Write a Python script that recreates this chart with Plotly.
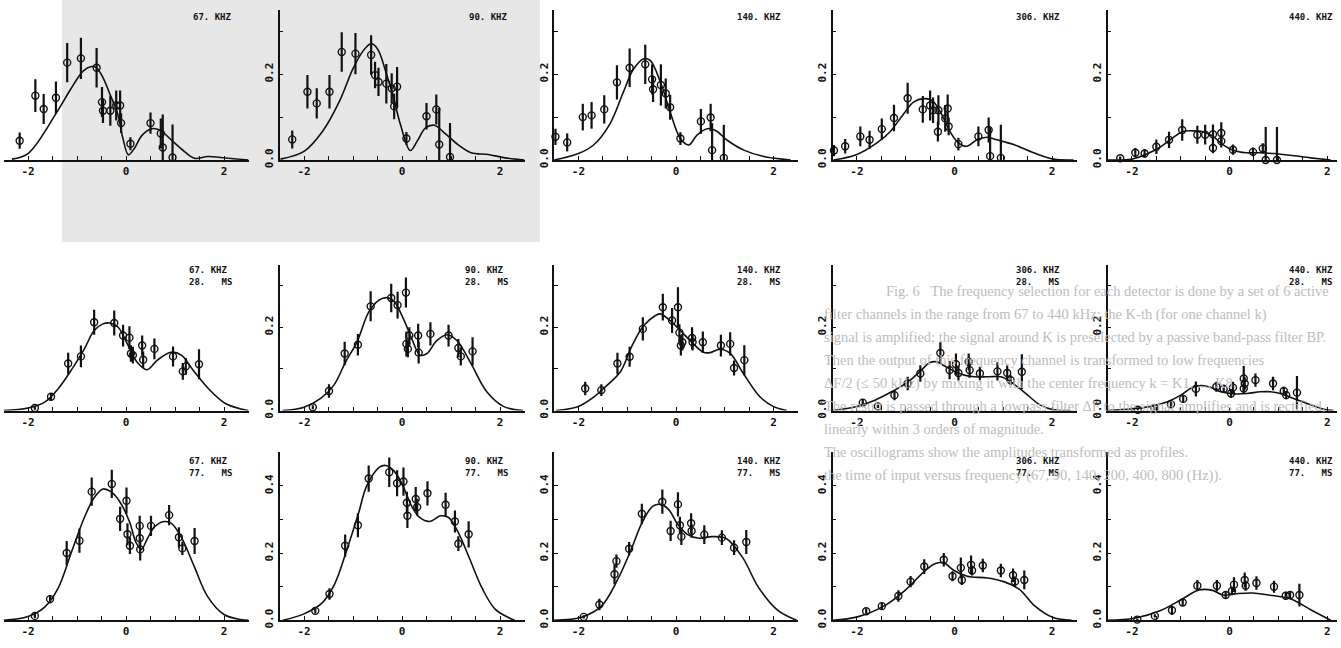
import plotly.graph_objects as go

# ---------------- data: points (x, y, error) and fitted curves ----------------
# Row 1 (frequency only)
r1c1_x = [-2.17, -1.85, -1.68, -1.43, -1.20, -0.92, -0.60, -0.49, -0.47, -0.32, -0.20, -0.12, -0.10, 0.09, 0.50, 0.71, 0.75, 0.95]
r1c1_y = [0.045, 0.150, 0.119, 0.145, 0.227, 0.237, 0.215, 0.135, 0.115, 0.115, 0.127, 0.127, 0.086, 0.038, 0.086, 0.062, 0.029, 0.006]
r1c1_e = [0.019, 0.038, 0.035, 0.038, 0.046, 0.048, 0.046, 0.035, 0.029, 0.035, 0.035, 0.035, 0.023, 0.015, 0.025, 0.035, 0.077, 0.077]
r1c1_cx = [-2.33, -2.0, -1.43, -1.13, -0.87, -0.70, -0.60, -0.47, -0.33, -0.17, -0.07, 0.05, 0.17, 0.33, 0.53, 0.70, 0.93, 1.20, 1.40, 1.67, 1.93, 2.5]
r1c1_cy = [0.002, 0.015, 0.108, 0.165, 0.208, 0.218, 0.215, 0.192, 0.154, 0.108, 0.054, 0.012, 0.027, 0.058, 0.073, 0.069, 0.046, 0.019, 0.004, 0.008, 0.006, 0.0]

r1c2_x = [-2.24, -1.93, -1.74, -1.48, -1.23, -0.95, -0.63, -0.55, -0.48, -0.32, -0.21, -0.16, -0.10, 0.09, 0.50, 0.70, 0.76, 0.98]
r1c2_y = [0.048, 0.159, 0.132, 0.159, 0.252, 0.248, 0.245, 0.198, 0.182, 0.178, 0.167, 0.125, 0.171, 0.050, 0.102, 0.118, 0.036, 0.007]
r1c2_e = [0.021, 0.039, 0.035, 0.039, 0.046, 0.048, 0.046, 0.031, 0.033, 0.046, 0.035, 0.030, 0.046, 0.015, 0.031, 0.035, 0.085, 0.079]
r1c2_cx = [-2.48, -2.0, -1.62, -1.28, -1.0, -0.79, -0.66, -0.59, -0.48, -0.31, -0.17, -0.03, 0.17, 0.31, 0.48, 0.66, 0.83, 1.14, 1.41, 1.76, 2.1, 2.5]
r1c2_cy = [0.002, 0.020, 0.067, 0.136, 0.213, 0.255, 0.270, 0.270, 0.255, 0.198, 0.144, 0.082, 0.022, 0.044, 0.075, 0.081, 0.067, 0.036, 0.017, 0.013, 0.005, 0.0]

r1c3_x = [-2.47, -2.23, -1.91, -1.73, -1.47, -1.21, -0.95, -0.63, -0.49, -0.47, -0.31, -0.21, -0.12, 0.09, 0.51, 0.71, 0.74, 0.98]
r1c3_y = [0.054, 0.041, 0.100, 0.104, 0.118, 0.181, 0.215, 0.223, 0.188, 0.165, 0.175, 0.155, 0.123, 0.050, 0.090, 0.099, 0.023, 0.005]
r1c3_e = [0.019, 0.021, 0.031, 0.031, 0.033, 0.040, 0.045, 0.046, 0.035, 0.030, 0.048, 0.035, 0.029, 0.015, 0.029, 0.032, 0.063, 0.077]
r1c3_cx = [-2.5, -2.0, -1.69, -1.35, -1.08, -0.87, -0.66, -0.53, -0.32, -0.12, 0.09, 0.26, 0.43, 0.64, 0.81, 1.05, 1.39, 1.80, 2.35]
r1c3_cy = [0.0, 0.015, 0.035, 0.085, 0.158, 0.212, 0.236, 0.232, 0.182, 0.112, 0.050, 0.035, 0.058, 0.073, 0.069, 0.046, 0.023, 0.008, 0.0]

r1c4_x = [-2.47, -2.24, -1.93, -1.74, -1.49, -1.24, -0.96, -0.65, -0.50, -0.44, -0.34, -0.33, -0.19, -0.14, -0.12, 0.08, 0.49, 0.70, 0.73, 0.95]
r1c4_y = [0.022, 0.032, 0.055, 0.047, 0.072, 0.098, 0.144, 0.118, 0.127, 0.116, 0.066, 0.116, 0.097, 0.120, 0.078, 0.037, 0.055, 0.070, 0.009, 0.005]
r1c4_e = [0.013, 0.017, 0.023, 0.021, 0.025, 0.031, 0.036, 0.031, 0.035, 0.030, 0.023, 0.035, 0.031, 0.033, 0.020, 0.015, 0.023, 0.029, 0.067, 0.077]
r1c4_cx = [-2.48, -2.0, -1.59, -1.32, -1.04, -0.84, -0.63, -0.46, -0.29, -0.09, 0.08, 0.25, 0.46, 0.66, 0.87, 1.21, 1.62, 2.03, 2.44]
r1c4_cy = [0.0, 0.013, 0.040, 0.066, 0.108, 0.135, 0.143, 0.139, 0.112, 0.066, 0.040, 0.032, 0.047, 0.053, 0.047, 0.036, 0.017, 0.002, 0.0]

r1c5_x = [-2.24, -1.93, -1.74, -1.50, -1.24, -0.97, -0.66, -0.50, -0.34, -0.34, -0.17, -0.17, 0.07, 0.48, 0.68, 0.74, 0.97]
r1c5_y = [0.004, 0.017, 0.015, 0.031, 0.047, 0.070, 0.059, 0.059, 0.060, 0.028, 0.063, 0.044, 0.024, 0.019, 0.027, 0.000, 0.000]
r1c5_e = [0.004, 0.011, 0.010, 0.017, 0.019, 0.025, 0.021, 0.023, 0.023, 0.012, 0.025, 0.015, 0.012, 0.010, 0.012, 0.077, 0.077]
r1c5_cx = [-2.5, -2.0, -1.72, -1.45, -1.17, -0.97, -0.76, -0.55, -0.34, -0.14, 0.07, 0.34, 0.62, 0.90, 1.24, 1.66, 2.07]
r1c5_cy = [0.0, 0.002, 0.013, 0.028, 0.051, 0.066, 0.068, 0.066, 0.055, 0.036, 0.023, 0.017, 0.017, 0.015, 0.011, 0.005, 0.0]

# Row 2 (28 ms)
r2c1_x = [-1.86, -1.53, -1.18, -0.92, -0.65, -0.24, -0.06, 0.07, 0.10, 0.14, 0.33, 0.35, 0.58, 0.96, 1.16, 1.22, 1.49]
r2c1_y = [0.006, 0.033, 0.113, 0.130, 0.212, 0.210, 0.180, 0.175, 0.137, 0.133, 0.156, 0.122, 0.148, 0.130, 0.094, 0.106, 0.111]
r2c1_e = [0.004, 0.008, 0.026, 0.026, 0.030, 0.030, 0.026, 0.027, 0.020, 0.020, 0.024, 0.020, 0.025, 0.024, 0.020, 0.020, 0.036]
r2c1_cx = [-2.5, -2.0, -1.65, -1.38, -1.10, -0.85, -0.65, -0.47, -0.33, -0.16, 0.01, 0.22, 0.43, 0.64, 0.92, 1.13, 1.37, 1.68, 2.03, 2.38, 2.5]
r2c1_cy = [0.0, 0.006, 0.021, 0.053, 0.100, 0.148, 0.192, 0.208, 0.210, 0.200, 0.164, 0.117, 0.098, 0.121, 0.140, 0.133, 0.097, 0.053, 0.017, 0.003, 0.0]

r2c2_x = [-1.82, -1.49, -1.17, -0.90, -0.64, -0.22, -0.09, 0.08, 0.09, 0.12, 0.15, 0.33, 0.34, 0.58, 0.95, 1.15, 1.20, 1.44]
r2c2_y = [0.008, 0.047, 0.137, 0.158, 0.250, 0.270, 0.253, 0.283, 0.160, 0.148, 0.180, 0.180, 0.139, 0.184, 0.180, 0.150, 0.130, 0.142]
r2c2_e = [0.005, 0.016, 0.028, 0.026, 0.036, 0.034, 0.032, 0.036, 0.030, 0.020, 0.020, 0.028, 0.026, 0.028, 0.026, 0.022, 0.022, 0.034]
r2c2_cx = [-2.44, -2.0, -1.66, -1.39, -1.15, -0.92, -0.68, -0.47, -0.31, -0.17, 0.03, 0.20, 0.37, 0.51, 0.71, 0.92, 1.12, 1.39, 1.73, 2.07, 2.47]
r2c2_cy = [0.0, 0.008, 0.029, 0.061, 0.117, 0.164, 0.236, 0.265, 0.271, 0.263, 0.220, 0.172, 0.133, 0.137, 0.168, 0.182, 0.168, 0.117, 0.045, 0.010, 0.0]

r2c3_x = [-1.86, -1.53, -1.20, -0.95, -0.68, -0.27, -0.08, 0.04, 0.07, 0.10, 0.13, 0.33, 0.34, 0.55, 0.92, 1.11, 1.19, 1.40]
r2c3_y = [0.053, 0.049, 0.113, 0.129, 0.196, 0.248, 0.216, 0.248, 0.187, 0.156, 0.164, 0.174, 0.164, 0.164, 0.156, 0.160, 0.102, 0.121]
r2c3_e = [0.016, 0.014, 0.026, 0.024, 0.028, 0.032, 0.030, 0.048, 0.020, 0.024, 0.020, 0.026, 0.020, 0.026, 0.026, 0.028, 0.018, 0.036]
r2c3_cx = [-2.46, -2.0, -1.68, -1.41, -1.14, -0.90, -0.66, -0.42, -0.32, -0.12, 0.09, 0.29, 0.56, 0.70, 0.90, 1.11, 1.38, 1.72, 1.99, 2.27]
r2c3_cy = [0.0, 0.010, 0.033, 0.061, 0.093, 0.156, 0.204, 0.228, 0.232, 0.216, 0.192, 0.168, 0.140, 0.139, 0.147, 0.137, 0.089, 0.033, 0.010, 0.0]

r2c4_x = [-1.88, -1.57, -1.23, -0.96, -0.70, -0.29, -0.10, 0.03, 0.08, 0.29, 0.31, 0.52, 0.88, 1.08, 1.15, 1.38]
r2c4_y = [0.019, 0.010, 0.037, 0.065, 0.089, 0.138, 0.097, 0.111, 0.090, 0.117, 0.097, 0.089, 0.094, 0.090, 0.073, 0.093]
r2c4_e = [0.008, 0.004, 0.012, 0.016, 0.020, 0.026, 0.022, 0.026, 0.018, 0.020, 0.018, 0.016, 0.022, 0.018, 0.012, 0.042]
r2c4_cx = [-2.5, -2.0, -1.63, -1.29, -0.95, -0.68, -0.51, -0.37, -0.20, 0.0, 0.20, 0.41, 0.68, 0.95, 1.15, 1.42, 1.76, 2.03, 2.37]
r2c4_cy = [0.0, 0.010, 0.025, 0.045, 0.069, 0.097, 0.115, 0.117, 0.107, 0.094, 0.085, 0.081, 0.081, 0.081, 0.069, 0.045, 0.013, 0.002, 0.0]

r2c5_x = [-1.88, -1.54, -1.20, -0.95, -0.69, -0.27, -0.12, 0.03, 0.07, 0.29, 0.31, 0.29, 0.53, 0.89, 1.11, 1.16, 1.38]
r2c5_y = [0.002, 0.006, 0.015, 0.028, 0.052, 0.057, 0.052, 0.041, 0.055, 0.077, 0.065, 0.053, 0.073, 0.065, 0.047, 0.037, 0.043]
r2c5_e = [0.002, 0.004, 0.006, 0.008, 0.018, 0.012, 0.010, 0.010, 0.014, 0.030, 0.015, 0.012, 0.016, 0.016, 0.010, 0.010, 0.040]
r2c5_cx = [-2.5, -2.0, -1.61, -1.27, -1.0, -0.80, -0.59, -0.39, -0.18, 0.09, 0.36, 0.63, 0.84, 1.04, 1.31, 1.59, 1.93, 2.13]
r2c5_cy = [0.0, 0.004, 0.010, 0.021, 0.037, 0.053, 0.060, 0.056, 0.045, 0.040, 0.041, 0.045, 0.045, 0.041, 0.029, 0.017, 0.003, 0.0]

# Row 3 (77 ms)
r3c1_x = [-1.86, -1.55, -1.21, -0.95, -0.70, -0.29, -0.12, 0.01, 0.03, 0.08, 0.28, 0.28, 0.29, 0.51, 0.88, 1.08, 1.15, 1.40]
r3c1_y = [0.013, 0.063, 0.200, 0.237, 0.383, 0.406, 0.302, 0.356, 0.256, 0.222, 0.281, 0.244, 0.211, 0.281, 0.313, 0.247, 0.214, 0.236]
r3c1_e = [0.006, 0.012, 0.036, 0.036, 0.042, 0.042, 0.036, 0.039, 0.033, 0.025, 0.030, 0.025, 0.033, 0.030, 0.030, 0.030, 0.020, 0.039]
r3c1_cx = [-2.5, -2.0, -1.66, -1.39, -1.12, -0.85, -0.64, -0.47, -0.31, -0.14, 0.07, 0.20, 0.31, 0.44, 0.58, 0.78, 0.92, 1.12, 1.39, 1.66, 2.0, 2.34, 2.5]
r3c1_cy = [0.0, 0.011, 0.039, 0.094, 0.200, 0.306, 0.367, 0.391, 0.383, 0.356, 0.294, 0.233, 0.211, 0.244, 0.278, 0.294, 0.289, 0.250, 0.161, 0.072, 0.017, 0.002, 0.0]

r3c2_x = [-1.77, -1.48, -1.16, -0.90, -0.68, -0.26, -0.10, 0.03, 0.10, 0.11, 0.28, 0.31, 0.52, 0.89, 1.08, 1.15, 1.36]
r3c2_y = [0.028, 0.078, 0.222, 0.283, 0.422, 0.441, 0.408, 0.413, 0.350, 0.311, 0.361, 0.337, 0.378, 0.344, 0.294, 0.228, 0.256]
r3c2_e = [0.008, 0.017, 0.033, 0.036, 0.039, 0.044, 0.039, 0.042, 0.033, 0.036, 0.036, 0.025, 0.036, 0.036, 0.033, 0.022, 0.039]
r3c2_cx = [-2.43, -2.0, -1.64, -1.38, -1.11, -0.89, -0.72, -0.46, -0.33, -0.16, 0.0, 0.20, 0.36, 0.56, 0.79, 0.95, 1.15, 1.38, 1.64, 1.90, 2.20, 2.3]
r3c2_cy = [0.0, 0.019, 0.050, 0.106, 0.217, 0.317, 0.400, 0.456, 0.461, 0.444, 0.406, 0.339, 0.306, 0.294, 0.311, 0.306, 0.261, 0.183, 0.094, 0.033, 0.006, 0.0]

r3c3_x = [-1.89, -1.57, -1.26, -1.22, -0.96, -0.70, -0.28, -0.11, 0.04, 0.08, 0.11, 0.31, 0.32, 0.58, 0.94, 1.19, 1.44]
r3c3_y = [0.010, 0.047, 0.137, 0.176, 0.213, 0.317, 0.353, 0.266, 0.345, 0.283, 0.249, 0.289, 0.266, 0.255, 0.246, 0.216, 0.233]
r3c3_e = [0.005, 0.017, 0.030, 0.020, 0.020, 0.030, 0.036, 0.030, 0.036, 0.025, 0.025, 0.030, 0.020, 0.028, 0.022, 0.022, 0.036]
r3c3_cx = [-2.5, -1.92, -1.53, -1.20, -0.92, -0.70, -0.48, -0.31, -0.14, 0.02, 0.24, 0.47, 0.74, 1.02, 1.36, 1.69, 2.08, 2.47]
r3c3_cy = [0.0, 0.010, 0.042, 0.120, 0.210, 0.289, 0.339, 0.345, 0.328, 0.289, 0.255, 0.244, 0.249, 0.244, 0.188, 0.098, 0.030, 0.0]

r3c4_x = [-1.81, -1.49, -1.15, -0.90, -0.62, -0.22, -0.04, 0.13, 0.15, 0.34, 0.36, 0.58, 0.95, 1.20, 1.24, 1.43]
r3c4_y = [0.027, 0.042, 0.072, 0.115, 0.160, 0.180, 0.131, 0.156, 0.120, 0.165, 0.148, 0.163, 0.148, 0.134, 0.115, 0.120]
r3c4_e = [0.008, 0.010, 0.017, 0.017, 0.022, 0.020, 0.015, 0.031, 0.015, 0.028, 0.015, 0.020, 0.020, 0.020, 0.015, 0.028]
r3c4_cx = [-2.5, -1.99, -1.45, -1.03, -0.60, -0.39, -0.22, -0.01, 0.26, 0.68, 1.01, 1.33, 1.65, 2.02, 2.4]
r3c4_cy = [0.0, 0.010, 0.042, 0.087, 0.148, 0.169, 0.171, 0.148, 0.131, 0.126, 0.115, 0.092, 0.042, 0.008, 0.0]

r3c5_x = [-1.89, -1.53, -1.18, -0.96, -0.66, -0.26, -0.08, 0.05, 0.09, 0.31, 0.33, 0.55, 0.91, 1.15, 1.24, 1.43]
r3c5_y = [0.002, 0.013, 0.030, 0.053, 0.103, 0.103, 0.075, 0.087, 0.106, 0.120, 0.103, 0.111, 0.100, 0.073, 0.075, 0.075]
r3c5_e = [0.003, 0.005, 0.014, 0.010, 0.017, 0.017, 0.012, 0.012, 0.022, 0.022, 0.015, 0.020, 0.018, 0.012, 0.012, 0.034]
r3c5_cx = [-2.5, -1.95, -1.40, -0.96, -0.63, -0.35, -0.13, 0.14, 0.47, 0.80, 1.24, 1.68, 2.07]
r3c5_cy = [0.0, 0.006, 0.030, 0.064, 0.090, 0.089, 0.075, 0.079, 0.081, 0.075, 0.064, 0.030, 0.0]

# panel labels
freq_labels = ["67. KHZ", "90. KHZ", "140. KHZ", "306. KHZ", "440. KHZ"]
time_labels = ["", "28.   MS", "77.   MS"]
x_tickvals = [-2.5, -2.0, -1.5, -1.0, -0.5, 0.0, 0.5, 1.0, 1.5, 2.0, 2.5]
x_ticktext = ["", "-2", "", "", "", "0", "", "", "", "2", ""]
y_tickvals_a = [0.0, 0.1, 0.2, 0.3]
y_ticktext_a = ["0.0", "", "0.2", ""]
y_tickvals_b = [0.0, 0.1, 0.2, 0.3, 0.4, 0.5]
y_ticktext_b = ["0.0", "", "0.2", "", "0.4", ""]

# background page text (bleed-through of the printed caption)
page_text = [
    "Fig. 6   The frequency selection for each detector is done by a set of 6 active",
    "filter channels in the range from 67 to 440 kHz; the K-th (for one channel k)",
    "signal is amplified; the signal around K is preselected by a passive band-pass filter BP.",
    "Then the output of this frequency channel is transformed to low frequencies",
    "ΔF/2 (≤ 50 kHz) by mixing it with the center frequency k = K1, ..., K8.",
    "The result is passed through a lowpass filter ΔF to the signal amplifies and is rectified,",
    "linearly within 3 orders of magnitude.",
    "The oscillograms show the amplitudes transformed as profiles.",
    "the time of input versus frequency (67, 90, 140, 200, 400, 800 (Hz)).",
]

panels = [
    [(r1c1_x, r1c1_y, r1c1_e, r1c1_cx, r1c1_cy), (r1c2_x, r1c2_y, r1c2_e, r1c2_cx, r1c2_cy),
     (r1c3_x, r1c3_y, r1c3_e, r1c3_cx, r1c3_cy), (r1c4_x, r1c4_y, r1c4_e, r1c4_cx, r1c4_cy),
     (r1c5_x, r1c5_y, r1c5_e, r1c5_cx, r1c5_cy)],
    [(r2c1_x, r2c1_y, r2c1_e, r2c1_cx, r2c1_cy), (r2c2_x, r2c2_y, r2c2_e, r2c2_cx, r2c2_cy),
     (r2c3_x, r2c3_y, r2c3_e, r2c3_cx, r2c3_cy), (r2c4_x, r2c4_y, r2c4_e, r2c4_cx, r2c4_cy),
     (r2c5_x, r2c5_y, r2c5_e, r2c5_cx, r2c5_cy)],
    [(r3c1_x, r3c1_y, r3c1_e, r3c1_cx, r3c1_cy), (r3c2_x, r3c2_y, r3c2_e, r3c2_cx, r3c2_cy),
     (r3c3_x, r3c3_y, r3c3_e, r3c3_cx, r3c3_cy), (r3c4_x, r3c4_y, r3c4_e, r3c4_cx, r3c4_cy),
     (r3c5_x, r3c5_y, r3c5_e, r3c5_cx, r3c5_cy)],
]

# ---------------- layout geometry (pixels of a 1341 x 648 page) ----------------
W, H = 1341, 648
col_px = [(3.5, 248.5), (279.5, 524.5), (554.0, 798.0), (832.5, 1076.5), (1107.5, 1337.0)]
col_xmax = [2.5, 2.5, 2.5, 2.5, 2.2]
row_px = [(162.0, 10.0), (415.7, 268.0), (628.0, 458.0)]
row_ymax = [0.35, 0.35, 0.5]
title_y = [0.333, 0.322, 0.455]

INK = "#111111"
tick_font = dict(family="DejaVu Sans Mono", size=11, color=INK, weight="bold")
label_font = dict(family="DejaVu Sans Mono", size=9, color=INK, weight="bold")

fig = go.Figure()
layout = dict(
    width=W, height=H, margin=dict(l=0, r=0, t=0, b=0),
    paper_bgcolor="white", plot_bgcolor="rgba(0,0,0,0)", showlegend=False,
)
annotations = []
n = 0
for r in range(3):
    for c in range(5):
        n += 1
        xs, ys, es, cxs, cys = panels[r][c]
        xa = "x" if n == 1 else f"x{n}"
        ya = "y" if n == 1 else f"y{n}"
        xkey = "xaxis" if n == 1 else f"xaxis{n}"
        ykey = "yaxis" if n == 1 else f"yaxis{n}"
        x0p, x1p = col_px[c]
        y0p, y1p = row_px[r]
        layout[xkey] = dict(
            domain=[x0p / W, x1p / W], range=[-2.5, col_xmax[c]], anchor=ya,
            showline=True, linecolor=INK, linewidth=1.6, showgrid=False, zeroline=False,
            ticks="inside", ticklen=4, tickwidth=1.4, tickcolor=INK,
            tickvals=x_tickvals, ticktext=x_ticktext, tickfont=tick_font, tickangle=0,
        )
        yt_v = y_tickvals_b if r == 2 else y_tickvals_a
        yt_t = y_ticktext_b if r == 2 else y_ticktext_a
        layout[ykey] = dict(
            domain=[1 - y0p / H, 1 - y1p / H], range=[0, row_ymax[r]], anchor=xa,
            showline=(c != 0), linecolor=INK, linewidth=1.6, showgrid=False, zeroline=False,
            ticks="inside" if c != 0 else "", ticklen=4, tickwidth=1.4, tickcolor=INK,
            tickvals=yt_v, ticktext=yt_t, showticklabels=(c != 0),
            tickfont=tick_font, tickangle=-90,
        )
        fig.add_trace(go.Scatter(
            x=cxs, y=cys, mode="lines", xaxis=xa, yaxis=ya,
            line=dict(color=INK, width=1.6, shape="spline", smoothing=1.0),
            hoverinfo="skip",
        ))
        fig.add_trace(go.Scatter(
            x=xs, y=ys, mode="markers", xaxis=xa, yaxis=ya, cliponaxis=False,
            marker=dict(symbol="circle-open", size=7, color=INK, line=dict(width=1.4, color=INK)),
            error_y=dict(type="data", array=es, visible=True, color=INK, thickness=2.2, width=0),
        ))
        txt = freq_labels[c] if r == 0 else freq_labels[c] + "<br>" + time_labels[r]
        annotations.append(dict(
            x=2.2 if c < 4 else 2.15, y=title_y[r], xref=xa, yref=ya,
            text=txt, showarrow=False, xanchor="right", yanchor="middle", align="left",
            font=label_font,
        ))

for i, line in enumerate(page_text):
    annotations.append(dict(
        x=(884 if i == 0 else 822) / W, y=1 - (295 + 23.3 * i) / H, xref="paper", yref="paper",
        text=line, showarrow=False, xanchor="left", yanchor="middle",
        font=dict(family="Liberation Serif", size=14.5, color="#bdbdbd"),
    ))

layout["annotations"] = annotations
layout["shapes"] = [dict(
    type="rect", xref="paper", yref="paper", x0=62 / W, x1=540 / W, y0=1 - 245 / H, y1=1,
    fillcolor="#e7e7e7", line=dict(width=0), layer="below",
)]
fig.update_layout(**layout)
fig.write_html("out.html")
